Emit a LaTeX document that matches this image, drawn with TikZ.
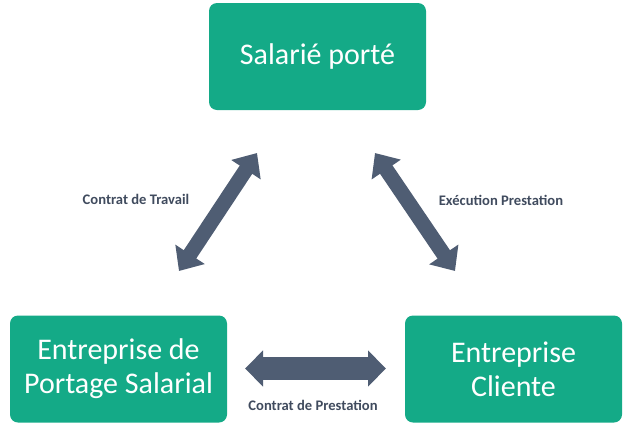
\documentclass[tikz,border=0pt]{standalone}
\usepackage{fontspec}
\setmainfont{Carlito}
\usetikzlibrary{arrows.meta}
\definecolor{boxteal}{RGB}{20,170,135}
\definecolor{arrowslate}{RGB}{79,93,115}
\definecolor{labelslate}{RGB}{64,75,94}
\tikzset{
  rolebox/.style={fill=boxteal, rounded corners=8pt, minimum width=217pt, minimum height=107pt,
    text=white, align=center, font=\fontsize{30}{34}\selectfont, inner sep=0pt},
  dblarrow/.style={draw=arrowslate, line width=15pt,
    {Triangle[width=34pt,length=20pt]}-{Triangle[width=34pt,length=20pt]}},
  hdblarrow/.style={draw=arrowslate, line width=23pt,
    {Triangle[width=35pt,length=18pt]}-{Triangle[width=35pt,length=18pt]}},
  relabel/.style={text=labelslate, font=\bfseries\fontsize{14.6}{16}\selectfont, inner sep=0pt}
}
\begin{document}
\begin{tikzpicture}[x=1pt,y=-1pt]
\useasboundingbox (0,0) rectangle (627,426);
\node[rolebox] (salarie) at (317.5,56.5) {Salarié porté};
\node[rolebox] (eps) at (118.5,369) {Entreprise de\\Portage Salarial};
\node[rolebox] (client) at (513.5,369) {Entreprise\\Cliente};
\coordinate (a1) at (179,271);
\coordinate (a2) at (257,153);
\coordinate (b1) at (375,153);
\coordinate (b2) at (455,271);
\coordinate (c1) at (245,368.5);
\coordinate (c2) at (386,368.5);
\draw[dblarrow] (a1) -- (a2);
\draw[dblarrow] (b1) -- (b2);
\draw[hdblarrow] (c1) -- (c2);
\node[relabel] (lt) at (136,199) {Contrat de Travail};
\node[relabel] (le) at (501,200) {Exécution Prestation};
\node[relabel] (lp) at (313,405) {Contrat de Prestation};
\end{tikzpicture}
\end{document}
